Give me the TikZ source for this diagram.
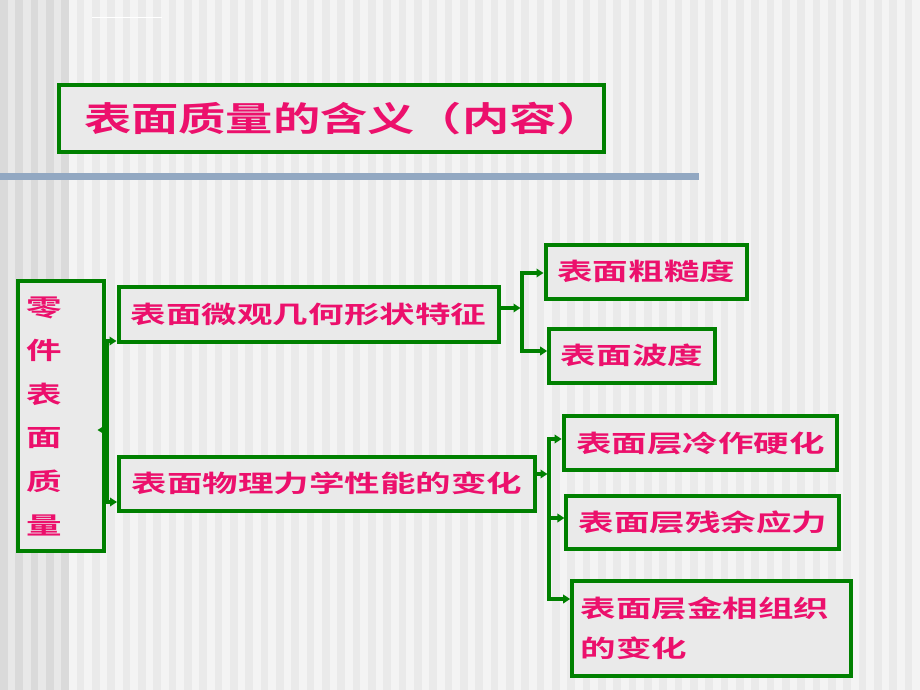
\documentclass[tikz,border=0pt]{standalone}
\usepackage{fontspec}
\newfontfamily\cjk[FakeStretch=1.48]{Noto Sans CJK SC Bold}
\newfontfamily\cjkt[FakeStretch=1.39]{Noto Sans CJK SC Bold}
\usetikzlibrary{arrows.meta}
\definecolor{boxgreen}{RGB}{0,128,0}
\definecolor{boxfill}{RGB}{234,234,234}
\definecolor{txtpink}{RGB}{236,16,108}
\definecolor{stripeA}{RGB}{218,218,218}
\definecolor{stripeB}{RGB}{232,232,232}
\definecolor{stripeC}{RGB}{244,244,244}
\definecolor{stripeD}{RGB}{234,234,234}
\definecolor{barblue}{RGB}{146,168,194}
\begin{document}
\begin{tikzpicture}[x=1pt,y=-1pt,
  box/.style={draw=boxgreen,line width=4pt,fill=boxfill,text=txtpink,inner sep=0pt,
    font=\cjk\fontsize{24}{30}\selectfont},
  conn/.style={draw=boxgreen,line width=3.5pt,line cap=rect},
  arr/.style={draw=boxgreen,line width=3.5pt,-{Triangle[length=7pt,width=8.5pt]}},
  vtext/.style={text=txtpink,inner sep=0pt,align=center,font=\cjk\fontsize{24}{43.6}\selectfont}]
\useasboundingbox (0,0) rectangle (920,690);
% background stripes
\fill[stripeC] (0,0) rectangle (920,690);
\fill[stripeB] (0,0) rectangle (69,690);
\foreach \n in {0,...,4} \fill[stripeA] ({\n*15.3333},0) rectangle ({\n*15.3333+7.6667},690);
\foreach \n in {5,...,59} \fill[stripeD] ({\n*15.3333},0) rectangle ({\n*15.3333+7.6667},690);
\draw[white,line width=1pt] (92,18) -- (162,18);
\fill[barblue] (0,173) rectangle (699,180);
% boxes
\node[box,minimum width=540pt,minimum height=66.5pt,font=\cjkt\fontsize{34}{40}\selectfont] (title) at (331.5,118.7) {\hspace*{25pt}表面质量的含义（内容）};
\node[box,minimum width=86.5pt,minimum height=270pt] (part) at (60.75,415.5) {};
\node[vtext] (parttext) at (44,416) {零\\件\\表\\面\\质\\量};
\node[box,minimum width=380pt,minimum height=55pt] (micro) at (308.5,314) {表面微观几何形状特征};
\node[box,minimum width=416pt,minimum height=54pt] (phys) at (327,483.5) {表面物理力学性能的变化};
\node[box,minimum width=201.5pt,minimum height=54.3pt] (rough) at (646.25,271.8) {表面粗糙度};
\node[box,minimum width=165.6pt,minimum height=53.7pt] (wave) at (632,355.7) {表面波度};
\node[box,minimum width=273.5pt,minimum height=53.6pt] (cold) at (700.4,443) {表面层冷作硬化};
\node[box,minimum width=272.7pt,minimum height=52.9pt] (resid) at (702.8,522.8) {表面层残余应力};
\node[box,minimum width=278.6pt,minimum height=95.3pt,text width=262pt,align=left,
  font=\cjk\fontsize{24}{40}\selectfont] (metal) at (711.5,628.2) {表面层金相组织\\的变化};
% left trunk
\coordinate (t1) at (107,341);
\coordinate (t2) at (107,502);
\coordinate (tm) at (107,430);
\coordinate (tmtip) at (97.5,430);
\draw[conn] (t1) -- (t2);
\draw[arr] (t1) -- (micro.west |- t1);
\draw[arr] (t2) -- (phys.west |- t2);
\draw[arr] (tm) -- (tmtip);
% upper right trunk
\coordinate (j1) at (522,308);
\coordinate (j1t) at (522,273);
\coordinate (j1b) at (522,351);
\draw[conn] (j1t) -- (j1b);
\draw[arr,shorten >=1.5pt] (micro.east |- j1) -- (j1);
\draw[arr] (j1t) -- (rough.west |- j1t);
\draw[arr] (j1b) -- (wave.west |- j1b);
% lower right trunk
\coordinate (j2) at (549,474);
\coordinate (j2t) at (549,439);
\coordinate (j2m) at (549,518);
\coordinate (j2b) at (549,599);
\draw[conn] (j2t) -- (j2b);
\draw[arr,shorten >=1.5pt] (phys.east |- j2) -- (j2);
\draw[arr] (j2t) -- (cold.west |- j2t);
\draw[arr] (j2m) -- (resid.west |- j2m);
\draw[arr] (j2b) -- (metal.west |- j2b);
\end{tikzpicture}
\end{document}
